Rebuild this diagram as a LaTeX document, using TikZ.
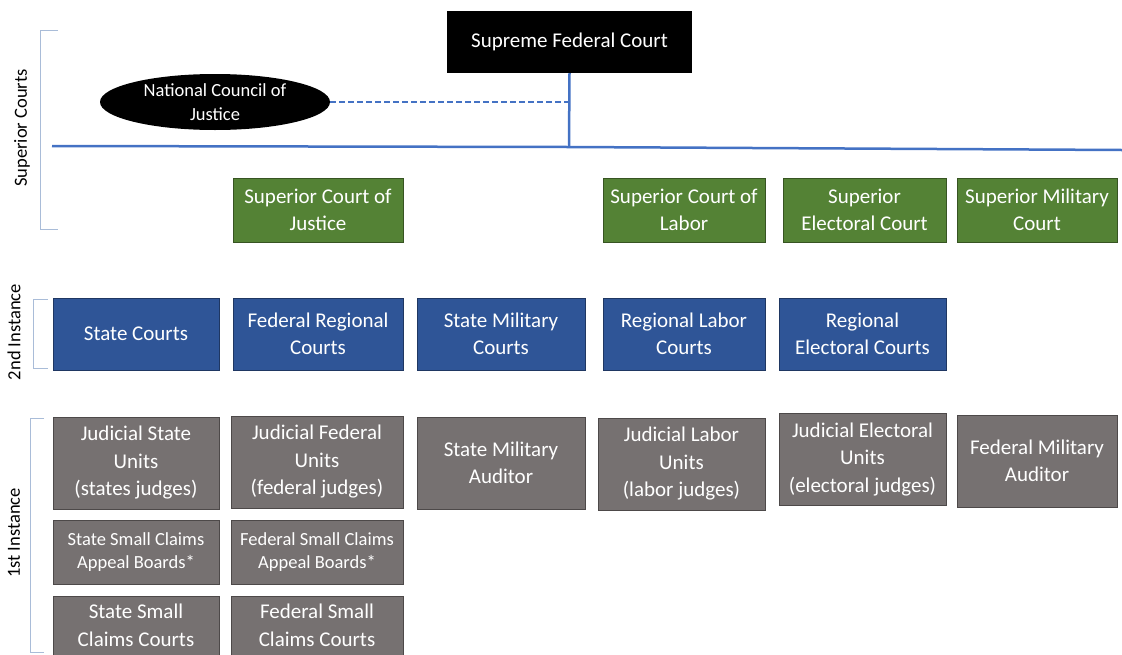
\documentclass[tikz,border=0pt]{standalone}
\usepackage{fontspec}
\setmainfont{Carlito}
\usetikzlibrary{positioning,shapes.geometric}
\definecolor{supgreen}{HTML}{548235}
\definecolor{regblue}{HTML}{2F5597}
\definecolor{unitgray}{HTML}{767171}
\definecolor{linkblue}{HTML}{4472C4}
\definecolor{bracketblue}{HTML}{A9BCD8}
\newcommand{\bigtxt}{\fontsize{21}{27.5}\selectfont}
\newcommand{\smalltxt}{\fontsize{18.5}{23.5}\selectfont}

\begin{document}
\begin{tikzpicture}[x=1pt, y=-1pt, node distance=10pt,
  court/.style={rectangle, draw=#1!65!black, line width=1pt, fill=#1, text=white,
    align=center, inner sep=1pt, font=\bigtxt},
  supcourt/.style={court=supgreen, minimum height=64pt},
  regcourt/.style={court=regblue, minimum height=72pt},
  unit/.style={court=unitgray, minimum height=92pt},
  smallunit/.style={court=unitgray, minimum height=64pt},
  link/.style={linkblue, line width=2.5pt},
  bracket/.style={bracketblue, line width=1pt},
  level/.style={rotate=90, font=\smalltxt}]
  \useasboundingbox (0,0) rectangle (1122,654);

  % top of the hierarchy
  \node (stf) [rectangle, fill=black, text=white, font=\bigtxt,
    minimum width=245pt, minimum height=62pt] at (569.5,42) {Supreme Federal Court};
  \node (cnj) [ellipse, fill=black, text=white, align=center, font=\smalltxt,
    minimum width=230pt, minimum height=56pt, inner sep=0pt] at (215,102)
    {National Council of\\Justice};
  \coordinate (bus)  at (569,147);
  \coordinate (busL) at (52,146);
  \coordinate (busR) at (1122,150);
  \draw[link] (stf.south) -- (bus);
  \draw[link] (busL) -- (bus) -- (busR);
  \draw[link, line width=2pt, dash pattern=on 6pt off 3pt] (cnj.east) -- (cnj.east -| stf.south);

  % superior courts
  \node (stj) [supcourt, minimum width=170pt] at (318,210)    {Superior Court of\\Justice};
  \node (tst) [supcourt, minimum width=162pt] at (684,210)    {Superior Court of\\Labor};
  \node (tse) [supcourt, minimum width=163pt] at (864.5,210)  {Superior\\Electoral Court};
  \node (stm) [supcourt, minimum width=160pt] at (1037,210)   {Superior Military\\Court};

  % 2nd instance
  \node (tj)  [regcourt, minimum width=166pt] at (136,334)    {State Courts};
  \node (trf) [regcourt, minimum width=170pt] at (318,334)    {Federal Regional\\Courts};
  \node (tjm) [regcourt, minimum width=168pt] at (501,334)    {State Military\\Courts};
  \node (trt) [regcourt, minimum width=162pt] at (684,334)    {Regional Labor\\Courts};
  \node (tre) [regcourt, minimum width=167pt] at (862.5,334)  {Regional\\Electoral Courts};

  % 1st instance
  \node (jsu) [unit, minimum width=166pt] at (136,463)    {Judicial State\\Units\\(states judges)};
  \node (jfu) [unit, minimum width=172pt] at (317,462)    {Judicial Federal\\Units\\(federal judges)};
  \node (sma) [unit, minimum width=168pt] at (501,463)    {State Military\\Auditor};
  \node (jlu) [unit, minimum width=167pt] at (681.5,464)  {Judicial Labor\\Units\\(labor judges)};
  \node (jeu) [unit, minimum width=167pt] at (862.5,459.5) {Judicial Electoral\\Units\\(electoral judges)};
  \node (fma) [unit, minimum width=160pt] at (1037,461)   {Federal Military\\Auditor};
  \node (ssab) [smallunit, font=\smalltxt, minimum width=166pt, below=10pt of jsu]
    {State Small Claims\\Appeal Boards*};
  \node (fsab) [smallunit, font=\smalltxt, minimum width=172pt, below=11pt of jfu]
    {Federal Small Claims\\Appeal Boards*};
  \node (sscc) [smallunit, minimum height=59pt, minimum width=166pt, below=11pt of ssab]
    {State Small\\Claims Courts};
  \node (fscc) [smallunit, minimum height=59pt, minimum width=172pt, below=11pt of fsab]
    {Federal Small\\Claims Courts};

  % level brackets
  \draw[bracket] (58,30) -- (40,30) -- (40,229) -- (58,229);
  \draw[bracket] (48,299) -- (33,299) -- (33,368) -- (48,368);
  \draw[bracket] (44,418) -- (30,418) -- (30,652) -- (44,652);
  \node (lsup) [level] at (22,128) {Superior Courts};
  \node (lsec) [level] at (14,332) {2nd Instance};
  \node (lfir) [level] at (14,533) {1st Instance};
\end{tikzpicture}
\end{document}
